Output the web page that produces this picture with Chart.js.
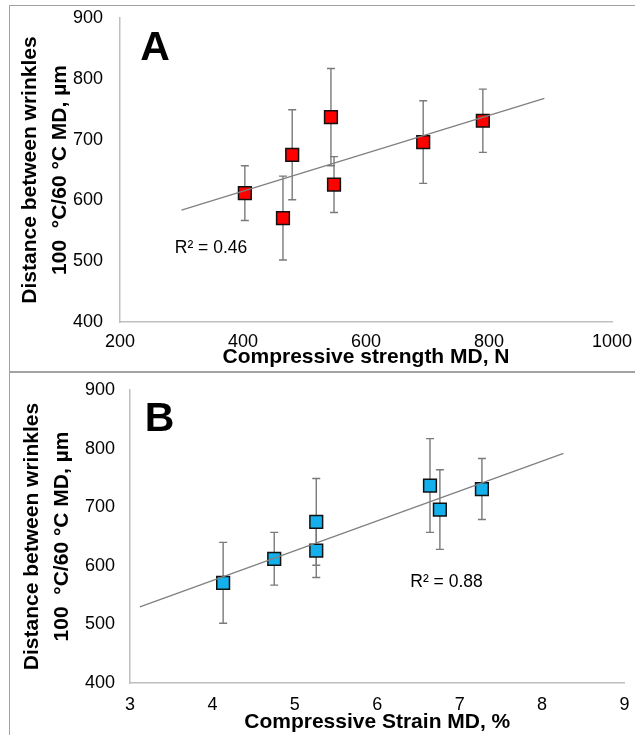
<!DOCTYPE html>
<html>
<head>
<meta charset="utf-8">
<script src="https://cdn.jsdelivr.net/npm/chart.js@4/dist/chart.umd.min.js"></script>
<style>
  html, body { margin: 0; padding: 0; background: #fff; overflow: hidden; }
  body { width: 635px; height: 735px; position: relative; overflow: hidden; }
  .frame { position: absolute; border: 1.5px solid #a3a3a3; border-right: none; box-sizing: border-box; }
  #frameA { left: 9px; top: 5px; width: 626px; height: 367px; }
  #frameB { left: 9px; top: 372px; width: 626px; height: 400px; }
  canvas { position: absolute; left: 0; }
  #chartA { top: 0; }
  #chartB { top: 373px; }
</style>
</head>
<body>
<div class="frame" id="frameA"></div>
<div class="frame" id="frameB"></div>
<canvas id="chartA" width="635" height="370"></canvas>
<canvas id="chartB" width="635" height="362"></canvas>
<script>
// Wrinkle spacing vs compressive properties (MD), 7 samples
const distance = [612, 571, 675, 737, 626, 696, 731];   // µm
const distErr  = [45, 69, 74, 80, 46, 68, 52];          // ± µm
const strength = [403, 465, 480, 543, 548, 693, 790];   // N
const strain   = [4.75, 4.13, 5.26, 6.64, 5.26, 6.76, 7.27]; // %

// linear trendline end points as drawn
const trendAX = [300, 890];
const trendAY = [584, 768];
const trendBX = [3.12, 8.26];
const trendBY = [530, 792];

const yTicks = [400, 500, 600, 700, 800, 900];
const xTicksA = [200, 400, 600, 800, 1000];
const xTicksB = [3, 4, 5, 6, 7, 8, 9];

const FONT = "'Liberation Sans', Arial, sans-serif";
Chart.defaults.font.family = FONT;
Chart.defaults.color = "#000";

// error bars under the markers
const errorBarPlugin = {
  id: "errorBars",
  beforeDatasetsDraw(chart, args, opts) {
    const xs = chart.scales.x, ys = chart.scales.y;
    const ctx = chart.ctx;
    ctx.save();
    ctx.strokeStyle = opts.color;
    ctx.lineWidth = opts.width;
    chart.data.datasets[opts.dataset].data.forEach((p, i) => {
      const px = xs.getPixelForValue(p.x);
      const top = ys.getPixelForValue(p.y + opts.errors[i]);
      const bot = ys.getPixelForValue(p.y - opts.errors[i]);
      ctx.beginPath();
      ctx.moveTo(px, top); ctx.lineTo(px, bot);
      ctx.moveTo(px - opts.cap, top); ctx.lineTo(px + opts.cap, top);
      ctx.moveTo(px - opts.cap, bot); ctx.lineTo(px + opts.cap, bot);
      ctx.stroke();
    });
    ctx.restore();
  }
};

// panel letter + R² text, anchored in data units
const labelPlugin = {
  id: "panelLabels",
  afterDatasetsDraw(chart, args, opts) {
    const ctx = chart.ctx;
    ctx.save();
    ctx.fillStyle = "#000";
    ctx.textAlign = "center";
    ctx.textBaseline = "middle";
    opts.items.forEach((it) => {
      ctx.font = it.font;
      ctx.fillText(it.text, chart.scales.x.getPixelForValue(it.x), chart.scales.y.getPixelForValue(it.y));
    });
    ctx.restore();
  }
};

function buildChart(id, cfg) {
  const pts = cfg.xVals.map((x, i) => ({ x: x, y: distance[i] }));
  const trend = cfg.trendX.map((x, i) => ({ x: x, y: cfg.trendY[i] }));
  return new Chart(document.getElementById(id), {
    type: "scatter",
    data: {
      datasets: [
        {
          data: trend,
          showLine: true,
          borderColor: "#808080",
          borderWidth: 1.3,
          pointRadius: 0
        },
        {
          data: pts,
          pointStyle: "rect",
          pointRadius: 9,
          backgroundColor: cfg.color,
          borderColor: "#111",
          borderWidth: 1.5
        }
      ]
    },
    options: {
      responsive: false,
      animation: false,
      events: [],
      devicePixelRatio: 1,
      layout: { padding: cfg.padding },
      plugins: {
        legend: { display: false },
        tooltip: { enabled: false },
        errorBars: { dataset: 1, errors: distErr, color: "#7a7a7a", width: 1.4, cap: 4 },
        panelLabels: { items: cfg.labels }
      },
      scales: {
        x: {
          type: "linear",
          min: cfg.xMin,
          max: cfg.xMax,
          afterBuildTicks: (s) => { s.ticks = cfg.xTicks.map((v) => ({ value: v })); },
          afterFit: (s) => { s.height = cfg.xHeight; s.paddingLeft = 0; s.paddingRight = 0; },
          grid: { color: "rgba(0,0,0,0)", drawTicks: false },
          border: { color: "#bfbfbf", width: 1.5 },
          ticks: {
            autoSkip: false, maxRotation: 0, padding: cfg.xTickPad,
            font: { size: 18 },
            callback: (v) => String(v)
          },
          title: {
            display: true,
            text: cfg.xTitle,
            font: { size: 21, weight: "bold", lineHeight: 1.2 },
            padding: 0
          }
        },
        y: {
          type: "linear",
          min: 400,
          max: 900,
          afterBuildTicks: (s) => { s.ticks = yTicks.map((v) => ({ value: v })); },
          afterFit: (s) => { s.width = cfg.yWidth; s.paddingTop = 0; s.paddingBottom = 0; },
          grid: { color: "rgba(0,0,0,0)", drawTicks: false },
          border: { color: "#bfbfbf", width: 1.5 },
          ticks: {
            autoSkip: false, padding: cfg.yTickPad,
            font: { size: 18 },
            callback: (v) => String(v)
          },
          title: {
            display: true,
            text: ["Distance between wrinkles", "100  °C/60 °C MD, µm"],
            font: { size: 21, weight: "bold", lineHeight: 30 / 21 },
            padding: { top: cfg.yTitlePad, bottom: 0 }
          }
        }
      }
    },
    plugins: [errorBarPlugin, labelPlugin]
  });
}

buildChart("chartA", {
  xVals: strength,
  trendX: trendAX,
  trendY: trendAY,
  color: "#ff0000",
  xMin: 200, xMax: 1000,
  xTicks: xTicksA,
  xTitle: "Compressive strength MD, N",
  padding: { top: 18, right: 23, bottom: 0, left: 0 },
  xHeight: 48, yWidth: 120,
  xTickPad: 9, yTickPad: 17, yTitlePad: 15,
  labels: [
    { text: "A", x: 257, y: 849, font: "bold 41px " + FONT },
    { text: "R² = 0.46", x: 348, y: 522, font: "17.5px " + FONT }
  ]
});

buildChart("chartB", {
  xVals: strain,
  trendX: trendBX,
  trendY: trendBY,
  color: "#14b0ec",
  xMin: 3, xMax: 9,
  xTicks: xTicksB,
  xTitle: "Compressive Strain MD, %",
  padding: { top: 17, right: 5, bottom: 0, left: 0 },
  xHeight: 52, yWidth: 130,
  xTickPad: 11, yTickPad: 15, yTitlePad: 17,
  labels: [
    { text: "B", x: 3.36, y: 850, font: "bold 41px " + FONT },
    { text: "R² = 0.88", x: 6.84, y: 572, font: "17.5px " + FONT }
  ]
});
</script>
</body>
</html>
